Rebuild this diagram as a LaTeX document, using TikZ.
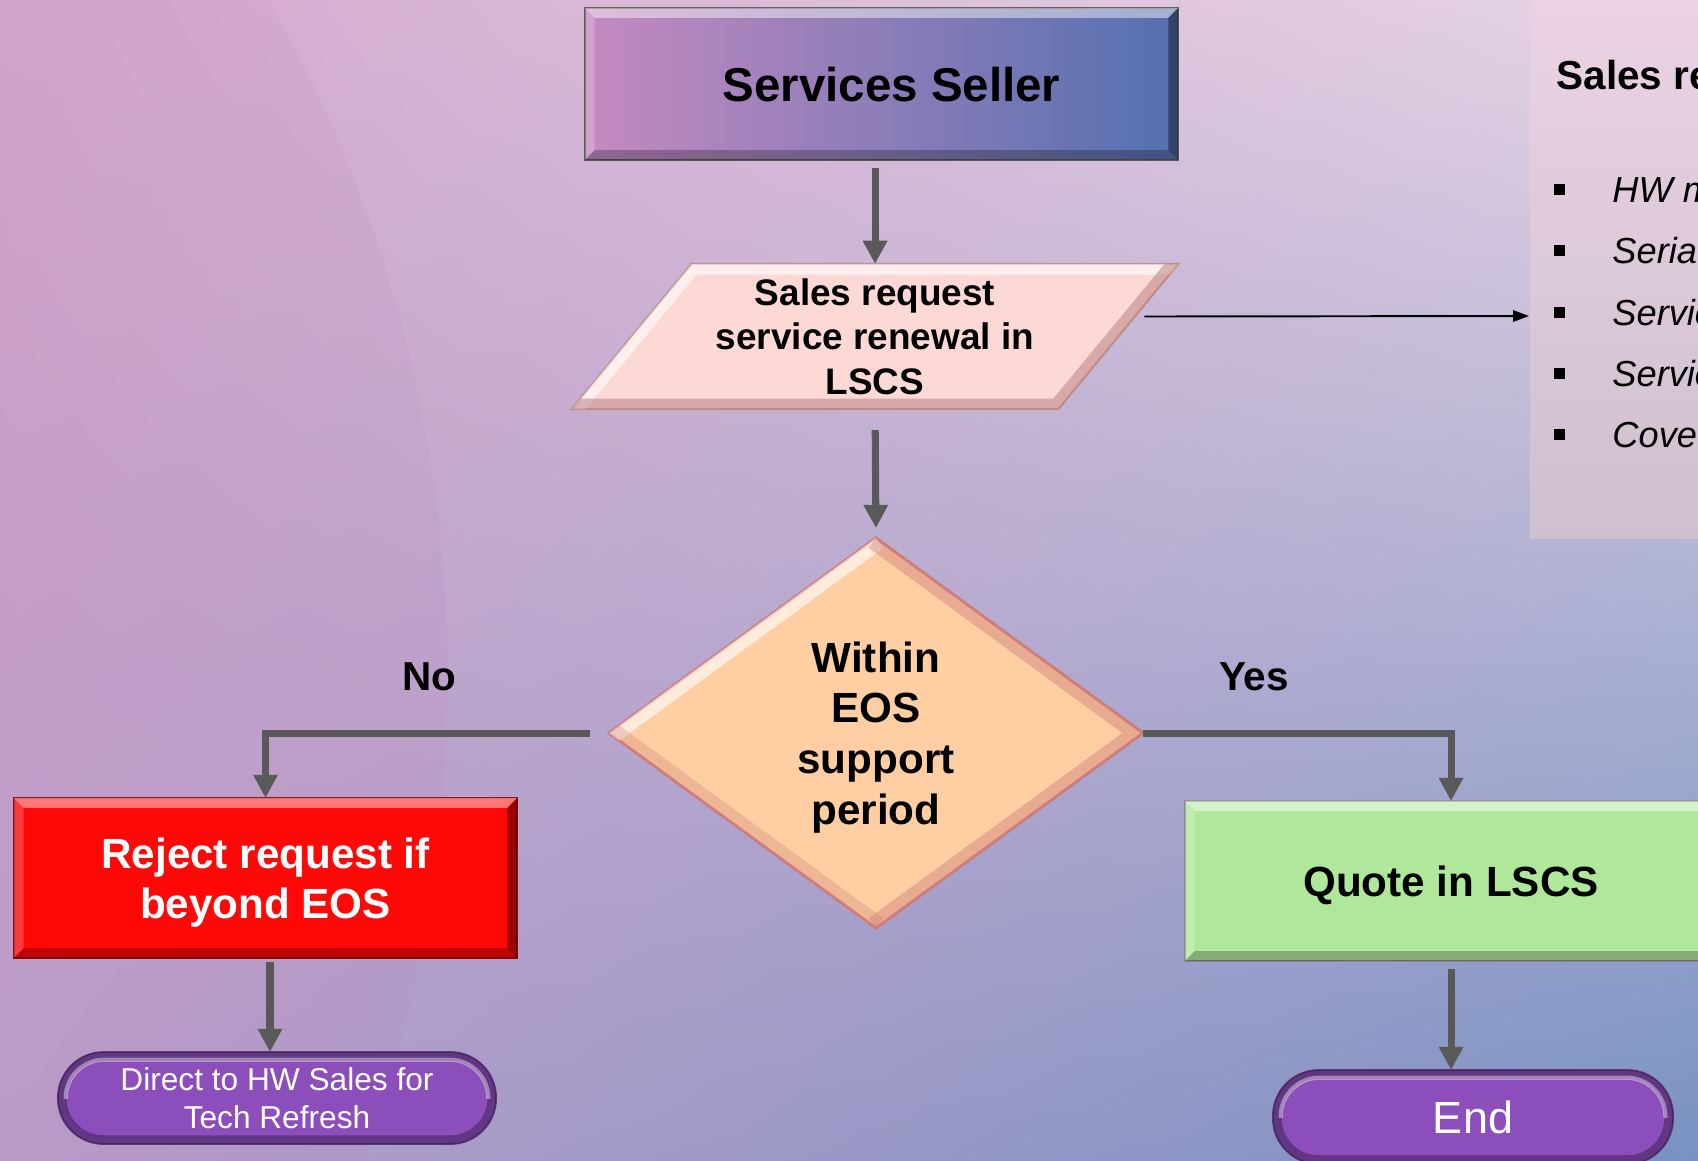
\documentclass[tikz,border=0pt]{standalone}
\usepackage{fontspec}
\setmainfont{Liberation Sans}
\usetikzlibrary{calc}
\usetikzlibrary{arrows.meta}
\usetikzlibrary{shapes.geometric}
\usetikzlibrary{shadings}
\usepackage{xcolor}
\definecolor{bgtl}{RGB}{211,168,205}
\definecolor{bgtr}{RGB}{230,213,230}
\definecolor{bgbl}{RGB}{186,158,202}
\definecolor{bgbr}{RGB}{120,146,194}
\definecolor{arcpink}{RGB}{190,130,185}
\definecolor{panelt}{RGB}{234,210,228}
\definecolor{panelb}{RGB}{206,192,206}
\definecolor{sellerl}{RGB}{196,138,192}
\definecolor{sellerr}{RGB}{84,112,176}
\definecolor{reqfill}{RGB}{253,217,214}
\definecolor{reqedge}{RGB}{190,140,140}
\definecolor{eosfill}{RGB}{255,207,163}
\definecolor{eosedge}{RGB}{205,125,122}
\definecolor{rejfill}{RGB}{255,8,8}
\definecolor{quotefill}{RGB}{175,232,155}
\definecolor{pillfill}{RGB}{140,78,187}
\definecolor{flowgray}{RGB}{89,89,89}
\newcommand\bev[0]{2.8pt}
\newcommand\sqbullet[0]{\makebox[16.7pt][l]{\raisebox{2.1pt}{\rule{3.1pt}{3.1pt}}}}
\newcommand\bevelrect[1]{%
  \fill[white,opacity=.45] (#1.north west) -- (#1.north east) -- ([shift={(-\bev,-\bev)}]#1.north east) -- ([shift={(\bev,-\bev)}]#1.north west) -- cycle;
  \fill[white,opacity=.2] (#1.north west) -- ([shift={(\bev,-\bev)}]#1.north west) -- ([shift={(\bev,\bev)}]#1.south west) -- (#1.south west) -- cycle;
  \fill[black,opacity=.25] (#1.south west) -- ([shift={(\bev,\bev)}]#1.south west) -- ([shift={(-\bev,\bev)}]#1.south east) -- (#1.south east) -- cycle;
  \fill[black,opacity=.4] (#1.south east) -- ([shift={(-\bev,\bev)}]#1.south east) -- ([shift={(-\bev,-\bev)}]#1.north east) -- (#1.north east) -- cycle;}
\newcommand\bevelpar[1]{%
  \begin{scope}
    \clip (#1.top left corner) -- (#1.top right corner) -- (#1.bottom right corner) -- (#1.bottom left corner) -- cycle;
    \draw[white,opacity=.6,line width=6pt] (#1.bottom left corner) -- (#1.top left corner) -- (#1.top right corner);
    \draw[reqedge,opacity=.6,line width=6pt] (#1.top right corner) -- (#1.bottom right corner) -- (#1.bottom left corner);
  \end{scope}}
\newcommand\beveldia[1]{%
  \begin{scope}
    \clip (#1.west) -- (#1.north) -- (#1.east) -- (#1.south) -- cycle;
    \draw[white,opacity=.6,line width=7pt] (#1.west) -- (#1.north);
    \draw[eosedge,opacity=.45,line width=7pt] (#1.north) -- (#1.east) -- (#1.south);
    \draw[eosedge,opacity=.3,line width=7pt] (#1.south) -- (#1.west);
  \end{scope}}
\newcommand\bevelpill[1]{%
  \begin{scope}
    \clip[rounded corners=13pt] (#1.north west) rectangle (#1.south east);
    \draw[black,opacity=.3,line width=5pt,rounded corners=13pt] (#1.north west) rectangle (#1.south east);
    \clip (#1.north west) rectangle (#1.east);
    \draw[white,opacity=.4,line width=1.2pt,rounded corners=11pt] ([shift={(2.2pt,-2.2pt)}]#1.north west) rectangle ([shift={(-2.2pt,2.2pt)}]#1.south east);
  \end{scope}}
\tikzset{
  flow/.style={draw=flowgray, line width=2pt, -{Triangle[length=6.6pt,width=6.6pt]}},
  thinflow/.style={draw=black, line width=.55pt, -{Triangle[length=4.5pt,width=3.2pt]}},
  bar/.style={rectangle, inner sep=0pt, outer sep=0pt, line width=.6pt, align=center, text depth=0pt},
  pill/.style={rectangle, rounded corners=13pt, fill=pillfill, draw=pillfill!70!black, line width=.5pt, inner sep=0pt, outer sep=0pt, align=center, text=white},
  lbl/.style={font=\fontsize{11.5}{13}\selectfont\bfseries},
  item/.style={anchor=base west, inner sep=0pt, font=\fontsize{10.3}{12}\selectfont\itshape},
}

\begin{document}
\begin{tikzpicture}[x=0.01cm,y=-0.01cm]
\useasboundingbox (0,0) rectangle (1698,1160);
\clip (0,0) rectangle (1698,1160);
\shade[upper left=bgtl, upper right=bgtr, lower left=bgbl, lower right=bgbr] (0,0) rectangle (1698,1160);
\fill[arcpink,opacity=.12] (-934,680) circle[radius=13.81cm];
\shade[top color=panelt, bottom color=panelb] (1530,0) rectangle (1698,538);

\node[bar, draw=black!65, left color=sellerl, right color=sellerr, minimum width=5.93cm, minimum height=1.52cm, font=\fontsize{13.5}{16}\selectfont\bfseries] (seller) at (881.5,84) {\hspace*{5.7pt}Services Seller};
\bevelrect{seller}
\node[trapezium, trapezium left angle=44, trapezium right angle=136, trapezium stretches body, minimum width=6.06cm, minimum height=1.45cm, inner sep=0pt, outer sep=0pt, fill=reqfill, draw=reqedge, line width=.6pt, align=center, font=\fontsize{10.5}{12.6}\selectfont\bfseries] (request) at (875,336.5) {Sales request\\service renewal in\\LSCS};
\bevelpar{request}
\node[diamond, minimum width=5.34cm, minimum height=3.9cm, inner sep=0pt, outer sep=0pt, fill=eosfill, draw=eosedge, line width=.8pt, align=center, text depth=0pt, font=\fontsize{12}{14.4}\selectfont\bfseries] (eos) at (876,733) {Within\\EOS\\support\\period};
\beveldia{eos}
\node[bar, fill=rejfill, draw=rejfill!60!black, minimum width=5.03cm, minimum height=1.6cm, text=white, font=\fontsize{12}{14.2}\selectfont\bfseries] (reject) at (265.5,878) {Reject request if\\beyond EOS};
\bevelrect{reject}
\node[pill, minimum width=4.38cm, minimum height=0.92cm, font=\fontsize{9}{10.7}\selectfont] (direct) at (277,1098) {Direct to HW Sales for\\Tech Refresh};
\bevelpill{direct}
\node[bar, fill=quotefill, draw=black!45, minimum width=5.32cm, minimum height=1.6cm, font=\fontsize{12}{14}\selectfont\bfseries] (quote) at (1451,881) {Quote in LSCS};
\bevelrect{quote}
\node[pill, minimum width=4.0cm, minimum height=0.94cm, font=\fontsize{12.8}{15}\selectfont] (finish) at (1473,1117) {End};
\bevelpill{finish}

\node[lbl] (no) at (429,677) {No};
\node[lbl] (yes) at (1254,677) {Yes};

\node[anchor=base west, inner sep=0pt, font=\fontsize{11.5}{13}\selectfont\bfseries] (listhead) at (1556,89) {Sales re};
\node[item] (hw) at (1553,202) {\sqbullet HW m};
\node[item] (serial) at (1553,263) {\sqbullet Seria};
\node[item] (svca) at (1553,325) {\sqbullet Servic};
\node[item] (svcb) at (1553,386) {\sqbullet Servic};
\node[item] (cover) at (1553,447) {\sqbullet Cove};
\coordinate (listin) at (1529,316);

\draw[flow, shorten <=2.3pt] (seller.south -| request.north) -- (request.north);
\draw[flow, shorten <=6pt, shorten >=2.8pt] (request.south) -- (eos.north);
\draw[flow, shorten <=5.4pt] (eos.west) -| (reject.north);
\draw[flow] (eos.east) -| (quote.north);
\draw[flow, shorten <=1pt] ($(reject.south)+(4.5,0)$) -- ($(reject.south |- direct.north)+(4.5,0)$);
\draw[flow, shorten <=2.3pt] (quote.south) -- (quote.south |- finish.north);
\draw[thinflow] ($(request.east)+(26,-20)$) -- (listin);
\end{tikzpicture}
\end{document}
